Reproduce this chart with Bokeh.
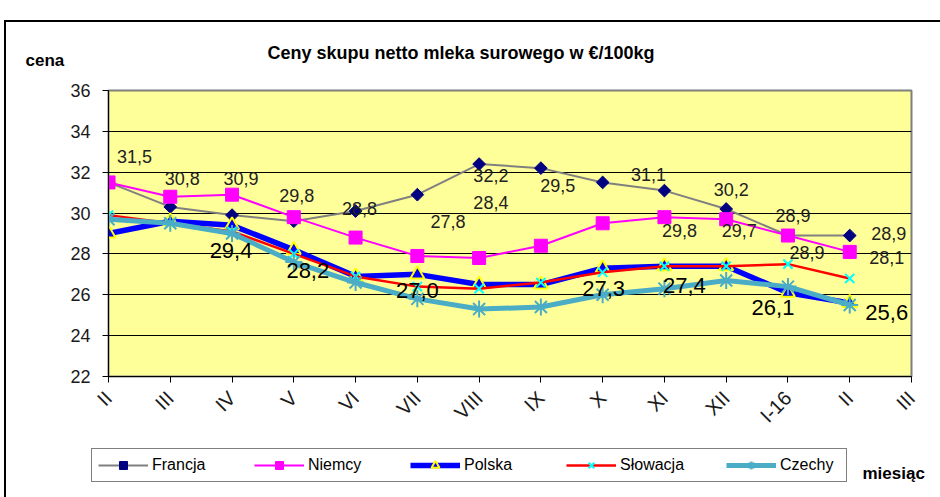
import math
from bokeh.plotting import figure
from bokeh.layouts import column
from bokeh.models import (FixedTicker, Label, Legend, LegendItem, ColumnDataSource, Range1d)
from bokeh.core.properties import value
from bokeh.embed import file_html
from bokeh.resources import INLINE

# ---------------- data ----------------
months = ["II", "III", "IV", "V", "VI", "VII", "VIII", "IX", "X", "XI", "XII", "I-16", "II", "III"]
y_ticks = [22, 24, 26, 28, 30, 32, 34, 36]

francja = [31.5, 30.3, 29.9, 29.6, 30.1, 30.9, 32.4, 32.2, 31.5, 31.1, 30.2, 28.9, 28.9]
niemcy = [31.5, 30.8, 30.9, 29.8, 28.8, 27.9, 27.8, 28.4, 29.5, 29.8, 29.7, 28.9, 28.1]
polska = [29.0, 29.6, 29.4, 28.2, 26.9, 27.0, 26.5, 26.5, 27.3, 27.4, 27.4, 26.1, 25.6]
slowacja = [29.9, 29.5, 29.1, 28.0, 26.9, 26.4, 26.3, 26.6, 27.1, 27.4, 27.4, 27.5, 26.8]
czechy = [29.7, 29.5, 29.0, 27.6, 26.6, 25.8, 25.3, 25.4, 26.0, 26.3, 26.7, 26.4, 25.5]

# which points carry a data label
niemcy_lab_idx = [0, 1, 2, 3, 4, 6, 7, 8, 9, 10, 11, 12]
francja_lab_idx = [7, 9, 10, 11, 12]
polska_lab_idx = [2, 3, 5, 8, 9, 11, 12]

# label placement (pixel offsets from the point)
niemcy_lab_dx = [26, 12, 9, 3, 4, -31, -50, -45, 15, 13, 19, 37]
niemcy_lab_dy = [-26, -18, -16, -22, -29, -37, -43, -38, 13, 11, 17, 6]
francja_lab_dx = [-50, -16, 5, 5, 39]
francja_lab_dy = [7, -16, -19, -20, -2]
polska_lab_dx = [-1, 14, 0, 1, 20, -15, 37]
polska_lab_dy = [25, 21, 16, 20, 19, 15, 10]

series_names = ["Francja", "Niemcy", "Polska", "Słowacja", "Czechy"]

FONT = "Liberation Sans"
W = 940
H_HEAD, H_CHART, H_LEG = 70, 370, 57

# ---------------- styles per series ----------------
line_styles = [
    dict(line_color="#808080", line_width=2),
    dict(line_color="#FF00FF", line_width=2),
    dict(line_color="#0000FF", line_width=5.5),
    dict(line_color="#FF0000", line_width=2.5),
    dict(line_color="#4BACC6", line_width=5),
]
marker_styles = [
    dict(marker="square", angle=math.pi / 4, size=9, fill_color="#000080", line_color="#000080"),
    dict(marker="square", size=13, fill_color="#FF00FF", line_color="#FF00FF"),
    dict(marker="triangle", size=14, fill_color="#0000FF", line_color="#FFFF00", line_width=2),
    dict(marker="x", size=13, line_color="#00FFFF", line_width=2),
    dict(marker="asterisk", size=17, line_color="#4BACC6", line_width=2),
]


def no_align(fig):
    try:
        fig.frame_align = False
    except Exception:
        pass


# ---------------- header (title, y-axis caption) ----------------
head = figure(width=W, height=H_HEAD, output_backend="svg", toolbar_location=None,
              title=None, x_axis_type=None, y_axis_type=None,
              x_range=Range1d(0, 1), y_range=Range1d(0, 1),
              min_border=0, outline_line_color=None)
no_align(head)
head.background_fill_alpha = 0
head.border_fill_alpha = 0
head.add_layout(Label(x=463, y=52, x_units="canvas", y_units="canvas",
                      text="Ceny skupu netto mleka surowego  w €/100kg", text_align="center",
                      text_baseline="alphabetic", text_font=FONT, text_font_size="18px",
                      text_font_style="bold", text_color="black"))
head.add_layout(Label(x=25, y=60, x_units="canvas", y_units="canvas", text="cena",
                      text_align="left", text_baseline="alphabetic", text_font=FONT,
                      text_font_size="17px", text_font_style="bold", text_color="black"))

# ---------------- chart ----------------
p = figure(width=W, height=H_CHART, output_backend="svg", toolbar_location=None, title=None,
           x_range=Range1d(0, 13), y_range=Range1d(22, 36),
           min_border_left=108, min_border_right=29, min_border_top=20, min_border_bottom=64)
no_align(p)
p.background_fill_color = "#FFFF99"
p.border_fill_alpha = 0
p.outline_line_color = "#7f7f7f"
p.outline_line_width = 2

p.xaxis.ticker = FixedTicker(ticks=list(range(len(months))))
p.xaxis.major_label_overrides = {i: m for i, m in enumerate(months)}
p.xaxis.major_label_orientation = math.pi / 4
p.yaxis.ticker = FixedTicker(ticks=y_ticks)
for ax in (p.xaxis[0], p.yaxis[0]):
    ax.axis_line_color = "black"
    ax.axis_line_width = 1
    ax.major_tick_line_color = "black"
    ax.major_tick_in = 0
    ax.major_tick_out = 6
    ax.minor_tick_line_color = None
    ax.major_label_text_font = FONT
    ax.major_label_text_color = "#1a1a1a"
p.yaxis.major_label_text_font_size = "18px"
p.yaxis.major_label_standoff = 12
p.xaxis.major_label_text_font_size = "20px"
p.xaxis.major_label_standoff = 12

p.xgrid.visible = False
p.ygrid.grid_line_color = "black"
p.ygrid.grid_line_width = 1
p.ygrid.grid_line_alpha = 1

all_series = [francja, niemcy, polska, slowacja, czechy]
xs = list(range(len(francja)))
for vals, ls, ms in zip(all_series, line_styles, marker_styles):
    p.line(xs, vals, **ls)
    p.scatter(xs, vals, **ms)


def fmt(v):
    return f"{v:.1f}".replace(".", ",")


def add_labels(vals, idx, dx, dy, size, color):
    src = ColumnDataSource(dict(
        x=[xs[i] for i in idx], y=[vals[i] for i in idx],
        t=[fmt(vals[i]) for i in idx], dx=dx, dy=dy))
    p.text(x="x", y="y", text="t", x_offset="dx", y_offset="dy", source=src,
           text_align="center", text_baseline="middle",
           text_font=value(FONT), text_font_size=value(size), text_color=color)


add_labels(niemcy, niemcy_lab_idx, niemcy_lab_dx, niemcy_lab_dy, "18px", "#222222")
add_labels(francja, francja_lab_idx, francja_lab_dx, francja_lab_dy, "18px", "#222222")
add_labels(polska, polska_lab_idx, polska_lab_dx, polska_lab_dy, "22px", "black")

# ---------------- legend strip ----------------
leg = figure(width=W, height=H_LEG, output_backend="svg", toolbar_location=None,
             title=None, x_axis_type=None, y_axis_type=None,
             x_range=Range1d(0, 1), y_range=Range1d(0, 1),
             min_border=0, outline_line_color=None)
no_align(leg)
leg.background_fill_alpha = 0
leg.border_fill_alpha = 0
items = []
for name, vals, ls, ms in zip(series_names, all_series, line_styles, marker_styles):
    # same series, out of this strip's view: only used for the legend swatches
    rl = leg.line(xs, vals, **ls)
    rm = leg.scatter(xs, vals, **ms)
    items.append(LegendItem(label=name, renderers=[rl, rm]))
legend = Legend(items=items, orientation="horizontal", location=(91, 15),
                glyph_width=50, glyph_height=20, label_standoff=4, label_width=60,
                spacing=42, padding=6, margin=0,
                label_text_font=FONT, label_text_font_size="16px", label_text_color="black",
                border_line_color="black", border_line_width=1.5,
                background_fill_color="white", background_fill_alpha=1)
leg.add_layout(legend)
leg.add_layout(Label(x=862, y=33, x_units="canvas", y_units="canvas", text="miesiąc",
                     text_align="left", text_baseline="alphabetic", text_font=FONT,
                     text_font_size="17px", text_font_style="bold", text_color="black"))

page = column(head, p, leg, spacing=0)
page.styles = {
    "background": ("linear-gradient(#000,#000) 4px 20px / 2px 100% no-repeat, "
                   "linear-gradient(#000,#000) 4px 20px / 100% 2px no-repeat, white"),
}

open("out.html", "w").write(file_html(page, INLINE))
